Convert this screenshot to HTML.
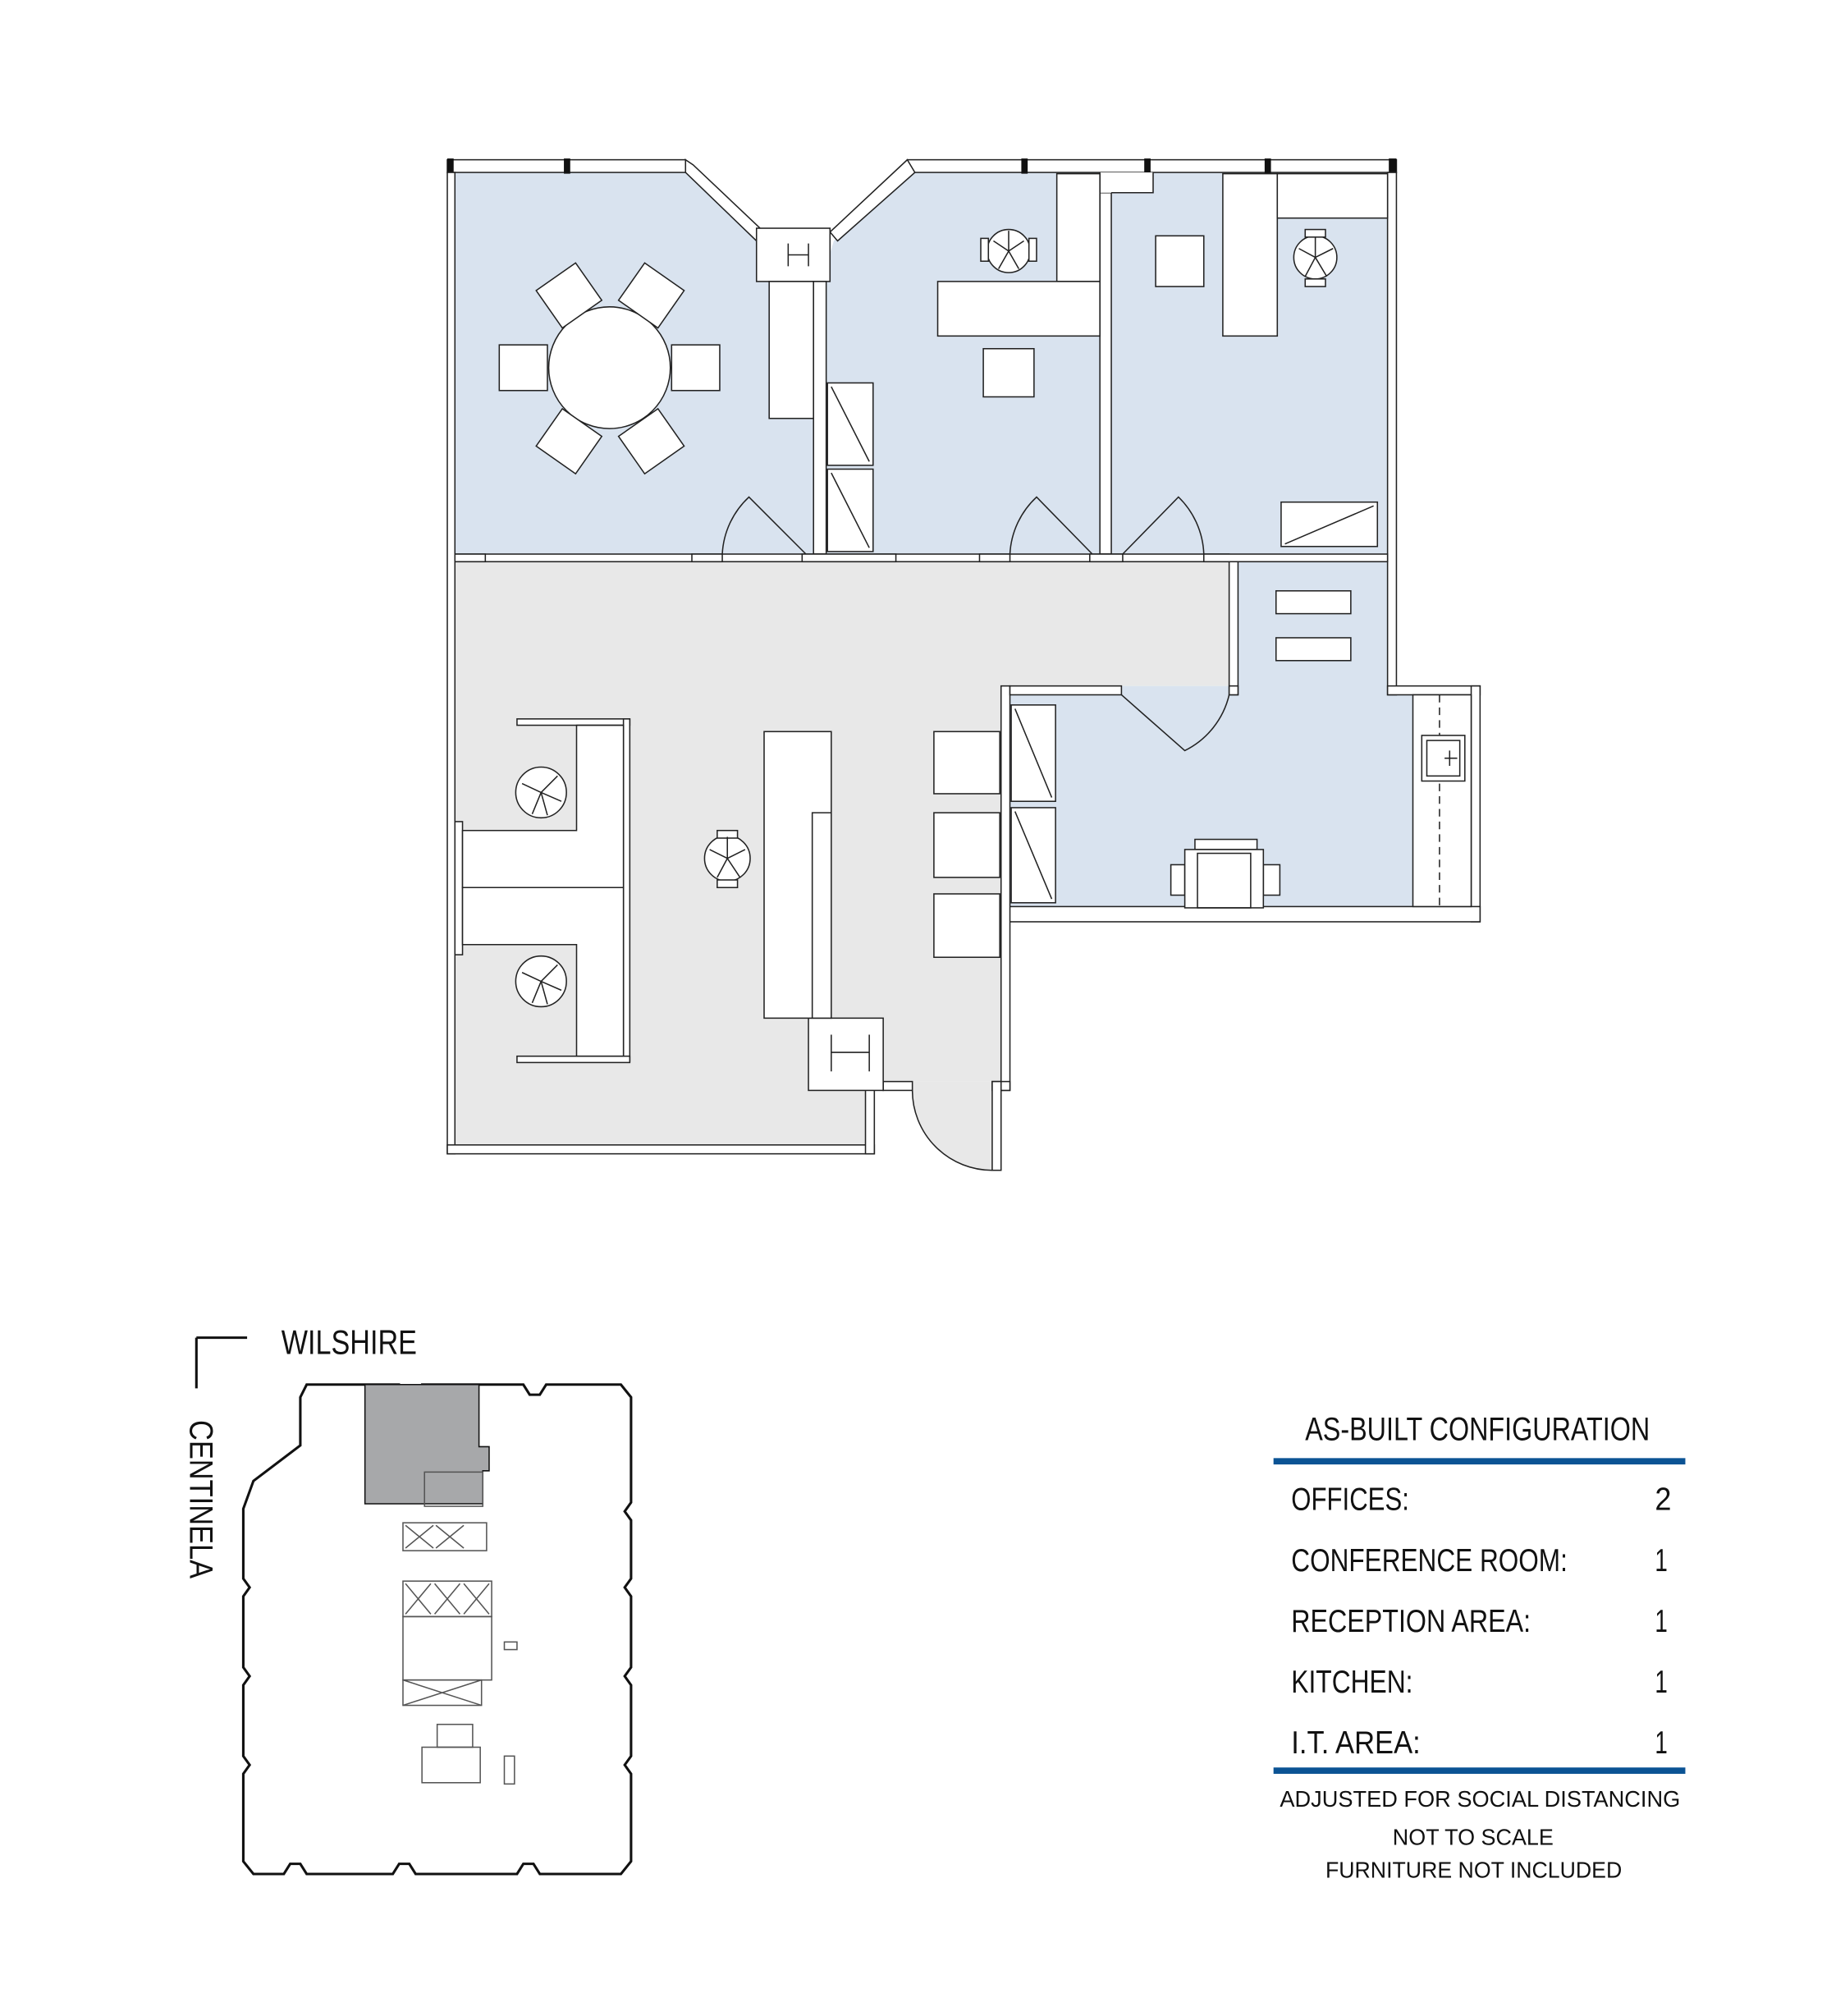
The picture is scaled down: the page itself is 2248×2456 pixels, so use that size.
<!DOCTYPE html>
<html><head><meta charset="utf-8"><style>
html,body{margin:0;padding:0;background:#fff}
svg{display:block}
text{font-family:"Liberation Sans",sans-serif;fill:#111}
</style></head><body>
<svg width="2248" height="2456" viewBox="0 0 1456 1590" preserveAspectRatio="none" xmlns="http://www.w3.org/2000/svg">
<g stroke="#222" stroke-width="1" fill="none">
<!-- fills -->
<polygon points="359,136 541,136 597,190 597,222 607,222 607,330 642,330 642,437 359,437" fill="#d9e3ef" stroke="none"/>
<polygon points="716,136 868,136 868,437 652,437 652,222 655,200 658,190" fill="#d9e3ef" stroke="none"/>
<polygon points="910,136 1095,136 1095,437 877,437 877,152 910,152" fill="#d9e3ef" stroke="none"/>
<rect x="977" y="443" width="118" height="110" fill="#d9e3ef" stroke="none"/>
<rect x="797" y="541" width="318" height="174" fill="#d9e3ef" stroke="none"/>
<polygon points="359,443 970,443 970,541 790,541 790,853 720,853 720,860 697,860 697,853 683,853 683,903 359,903" fill="#e8e8e8" stroke="none"/>
<path d="M720,853 L783,853 L783,923 A63,63 0 0 1 720,860 Z" fill="#e8e8e8" stroke="none"/>
<!-- top window band -->
<rect x="353" y="126" width="188" height="10" fill="#fff"/>
<rect x="716" y="126" width="386" height="10" fill="#fff"/>
<g fill="#111" stroke="none">
<rect x="353" y="125" width="5" height="12"/><rect x="445" y="125" width="5" height="12"/>
<rect x="806" y="125" width="5" height="12"/><rect x="903" y="125" width="5" height="12"/>
<rect x="998" y="125" width="5" height="12"/><rect x="1096" y="125" width="6" height="12"/>
</g>
<polygon points="541,126 547,130 603,183 597,190 541,136" fill="#fff"/>
<polygon points="716,126 722,136 661,190 655,183" fill="#fff"/>
<rect x="597" y="180" width="58" height="42" fill="#fff"/>
<path d="M622,192 V210 M638,192 V210 M622,201 H638"/>
<rect x="607" y="222" width="35" height="108" fill="#fff"/>
<!-- outer walls -->
<rect x="353" y="136" width="6" height="774" fill="#fff"/>
<rect x="353" y="903" width="337" height="7" fill="#fff"/>
<rect x="683" y="853" width="7" height="57" fill="#fff"/>
<rect x="1095" y="136" width="7" height="412" fill="#fff"/>
<rect x="1095" y="541" width="73" height="7" fill="#fff"/>
<rect x="1161" y="541" width="7" height="186" fill="#fff"/>
<rect x="790" y="715" width="378" height="12" fill="#fff"/>
<rect x="790" y="541" width="7" height="319" fill="#fff"/>
<rect x="783" y="853" width="14" height="7" fill="#fff"/>
<rect x="783" y="853" width="7" height="70" fill="#fff"/>
<rect x="697" y="853" width="23" height="7" fill="#fff"/>
<rect x="638" y="803" width="59" height="57" fill="#fff"/>
<path d="M656,816 V845 M686,816 V845 M656,830 H686"/>
<!-- interior walls -->
<rect x="642" y="222" width="10" height="215" fill="#fff"/>
<rect x="868" y="152" width="9" height="285" fill="#fff"/>
<rect x="868" y="136" width="42" height="16" fill="#fff" stroke="none"/>
<path d="M868,136 V152 M877,152 H910 V136"/>
<rect x="359" y="437" width="611" height="6" fill="#fff"/>
<rect x="950" y="437" width="145" height="6" fill="#fff"/>
<rect x="359" y="437" width="24" height="6" fill="#fff"/>
<rect x="546" y="437" width="24" height="6" fill="#fff"/>
<rect x="633" y="437" width="74" height="6" fill="#fff"/>
<rect x="773" y="437" width="24" height="6" fill="#fff"/>
<rect x="860" y="437" width="26" height="6" fill="#fff"/>
<rect x="970" y="443" width="7" height="105" fill="#fff"/>
<rect x="797" y="541" width="88" height="7" fill="#fff"/>
<rect x="970" y="541" width="7" height="7" fill="#fff"/>
<rect x="1115" y="548" width="46" height="167" fill="#fff"/>
<line x1="1136" y1="548" x2="1136" y2="715" stroke-dasharray="6,4"/>
<rect x="1122" y="580" width="34" height="36" fill="#fff"/><rect x="1126" y="584" width="26" height="28"/>
<path d="M1144,592 V604 M1140,598 H1150"/>
<!-- doors -->
<path d="M570,437 A66,66 0 0 1 591,392 L636,437" fill="none"/>
<path d="M797,437 A66,66 0 0 1 818,392 L862,437"/>
<path d="M950,437 A66,66 0 0 0 930,392 L886,437"/>
<path d="M970,548 A66,66 0 0 1 935,592 L885,548"/>
<path d="M720,860 A63,63 0 0 0 783,923"/>
<!-- conference table & chairs -->
<circle cx="481" cy="290" r="48" fill="#fff"/>
<g fill="#fff">
<rect x="394" y="272" width="38" height="36"/><rect x="530" y="272" width="38" height="36"/>
<rect x="-19" y="-18" width="38" height="36" transform="translate(449,233) rotate(-35)"/>
<rect x="-19" y="-18" width="38" height="36" transform="translate(514,233) rotate(35)"/>
<rect x="-19" y="-18" width="38" height="36" transform="translate(449,348) rotate(35)"/>
<rect x="-19" y="-18" width="38" height="36" transform="translate(514,348) rotate(-35)"/>
</g>
<!-- office1 -->
<rect x="653" y="302" width="36" height="65" fill="#fff"/><line x1="656" y1="305" x2="686" y2="364"/>
<rect x="653" y="370" width="36" height="65" fill="#fff"/><line x1="656" y1="373" x2="686" y2="432"/>
<rect x="834" y="137" width="34" height="85" fill="#fff"/>
<rect x="740" y="222" width="128" height="43" fill="#fff"/>
<rect x="776" y="275" width="40" height="38" fill="#fff"/>
<g fill="#fff"><circle cx="796" cy="198" r="17"/><rect x="774" y="188" width="6" height="18"/><rect x="812" y="188" width="6" height="18"/></g>
<path d="M796,198 L784,190 M796,198 L808,190 M796,198 L788,212 M796,198 L804,212 M796,198 V182"/>
<!-- office2 -->
<rect x="965" y="137" width="43" height="128" fill="#fff"/>
<rect x="1008" y="137" width="87" height="35" fill="#fff"/>
<rect x="912" y="186" width="38" height="40" fill="#fff"/>
<g fill="#fff"><circle cx="1038" cy="203" r="17"/><rect x="1030" y="181" width="16" height="6"/><rect x="1030" y="220" width="16" height="6"/></g>
<path d="M1038,203 L1025,196 M1038,203 L1052,196 M1038,203 L1030,218 M1038,203 L1047,218 M1038,203 V187"/>
<rect x="1011" y="396" width="76" height="35" fill="#fff"/><line x1="1014" y1="429" x2="1084" y2="399"/>
<!-- small room -->
<rect x="1007" y="466" width="59" height="18" fill="#fff"/>
<rect x="1007" y="503" width="59" height="18" fill="#fff"/>
<!-- IT room -->
<rect x="798" y="556" width="35" height="76" fill="#fff"/><line x1="801" y1="559" x2="830" y2="629"/>
<rect x="798" y="637" width="35" height="75" fill="#fff"/><line x1="801" y1="640" x2="830" y2="709"/>
<rect x="943" y="662" width="49" height="8" fill="#fff"/>
<rect x="924" y="682" width="11" height="24" fill="#fff"/><rect x="997" y="682" width="13" height="24" fill="#fff"/>
<rect x="935" y="670" width="62" height="46" fill="#fff"/><rect x="945" y="673" width="42" height="43"/>
<!-- waiting chairs -->
<rect x="737" y="577" width="52" height="49" fill="#fff"/>
<rect x="737" y="641" width="52" height="51" fill="#fff"/>
<rect x="737" y="705" width="52" height="50" fill="#fff"/>
<!-- reception desk -->
<rect x="603" y="577" width="53" height="226" fill="#fff"/>
<path d="M641,803 V641 H656"/>
<g fill="#fff"><circle cx="574" cy="677" r="18"/><rect x="566" y="655" width="16" height="6"/><rect x="566" y="694" width="16" height="6"/></g>
<path d="M574,677 L560,670 M574,677 L588,670 M574,677 L566,692 M574,677 L584,692 M574,677 V660"/>
<!-- cubicles -->
<rect x="408" y="567" width="89" height="5" fill="#fff"/>
<rect x="492" y="567" width="5" height="270" fill="#fff"/>
<rect x="408" y="833" width="89" height="5" fill="#fff"/>
<rect x="359" y="648" width="6" height="105" fill="#fff"/>
<polygon points="455,572 492,572 492,700 365,700 365,655 455,655" fill="#fff"/>
<polygon points="365,700 492,700 492,833 455,833 455,745 365,745" fill="#fff"/>
<g fill="#fff"><circle cx="427" cy="625" r="20"/><circle cx="427" cy="774" r="20"/></g>
<path d="M427,625 L412,618 M427,625 L440,612 M427,625 L443,632 M427,625 L420,642 M427,625 L432,643 M427,774 L412,767 M427,774 L440,761 M427,774 L443,781 M427,774 L420,791 M427,774 L432,792"/>
</g>
<!-- bottom-left key plan -->
<g stroke="#111" fill="none">
<path d="M155,1055 H195 M155,1055 V1095" stroke-width="2"/>
<polygon points="242,1092 315,1092 320,1100 328,1100 333,1092 413,1092 418,1100 426,1100 431,1092 490,1092 498,1102 498,1185 493,1192 498,1199 498,1245 493,1252 498,1259 498,1315 493,1322 498,1329 498,1385 493,1392 498,1399 498,1468 490,1478 426,1478 421,1470 413,1470 408,1478 328,1478 323,1470 315,1470 310,1478 242,1478 237,1470 229,1470 224,1478 200,1478 192,1468 192,1399 197,1392 192,1385 192,1329 197,1322 192,1315 192,1259 197,1252 192,1245 192,1190 200,1168 237,1140 237,1102" stroke-width="2" fill="#fff"/>
<polygon points="288,1092 378,1092 378,1141 386,1141 386,1160 381,1160 381,1186 288,1186" fill="#a7a8aa" stroke-width="1"/>
<g stroke-width="1" stroke="#555">
<rect x="335" y="1161" width="46" height="27"/>
<rect x="318" y="1201" width="66" height="22"/><path d="M320,1203 L342,1221 M342,1203 L320,1221 M344,1203 L366,1221 M366,1203 L344,1221"/>
<rect x="318" y="1247" width="70" height="28"/><path d="M320,1249 L340,1273 M340,1249 L320,1273 M343,1249 L363,1273 M363,1249 L343,1273 M366,1249 L386,1273 M386,1249 L366,1273"/>
<rect x="318" y="1275" width="70" height="50"/>
<rect x="318" y="1325" width="62" height="20"/><path d="M318,1325 L380,1345 M318,1345 L380,1325"/>
<rect x="333" y="1378" width="46" height="28"/><rect x="345" y="1360" width="28" height="18"/>
<rect x="398" y="1385" width="8" height="22"/>
<rect x="398" y="1295" width="10" height="6"/>
</g>
</g>
<text x="222" y="1068" font-size="27" textLength="107" lengthAdjust="spacingAndGlyphs">WILSHIRE</text>
<text transform="translate(150,1120) rotate(90)" font-size="26" textLength="125" lengthAdjust="spacingAndGlyphs">CENTINELA</text>
<!-- table -->
<text x="1030" y="1136" font-size="26" textLength="272" lengthAdjust="spacingAndGlyphs">AS-BUILT CONFIGURATION</text>
<rect x="1005" y="1150" width="325" height="5" fill="#0b5394"/>
<rect x="1005" y="1394" width="325" height="5" fill="#0b5394"/>
<g font-size="25">
<text x="1019" y="1191" textLength="93" lengthAdjust="spacingAndGlyphs">OFFICES:</text>
<text x="1019" y="1239" textLength="218" lengthAdjust="spacingAndGlyphs">CONFERENCE  ROOM:</text>
<text x="1019" y="1287" textLength="189" lengthAdjust="spacingAndGlyphs">RECEPTION AREA:</text>
<text x="1019" y="1335" textLength="96" lengthAdjust="spacingAndGlyphs">KITCHEN:</text>
<text x="1019" y="1383" textLength="102" lengthAdjust="spacingAndGlyphs">I.T. AREA:</text>
<text x="1306" y="1191" textLength="13" lengthAdjust="spacingAndGlyphs">2</text>
<text x="1306" y="1239" textLength="10" lengthAdjust="spacingAndGlyphs">1</text>
<text x="1306" y="1287" textLength="10" lengthAdjust="spacingAndGlyphs">1</text>
<text x="1306" y="1335" textLength="10" lengthAdjust="spacingAndGlyphs">1</text>
<text x="1306" y="1383" textLength="10" lengthAdjust="spacingAndGlyphs">1</text>
</g>
<g font-size="18">
<text x="1010" y="1425" textLength="316" lengthAdjust="spacingAndGlyphs">ADJUSTED FOR SOCIAL DISTANCING</text>
<text x="1099" y="1455" textLength="127" lengthAdjust="spacingAndGlyphs">NOT TO SCALE</text>
<text x="1046" y="1481" textLength="234" lengthAdjust="spacingAndGlyphs">FURNITURE NOT INCLUDED</text>
</g>
</svg>
</body></html>
